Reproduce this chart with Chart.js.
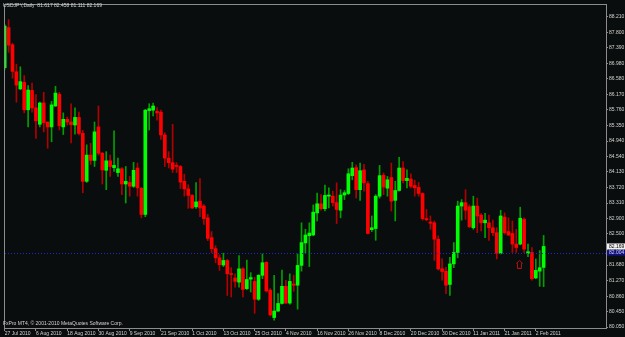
<!DOCTYPE html>
<html>
<head>
<meta charset="utf-8">
<script src="https://cdn.jsdelivr.net/npm/chart.js@4/dist/chart.umd.min.js"></script>
<style>
  html, body { margin: 0; padding: 0; background: #0a0d0d; }
  #wrap { width: 625px; height: 337px; }
</style>
</head>
<body>
<div id="wrap"><canvas id="chart" width="625" height="337"></canvas></div>
<script>
// USDJPY daily bars, 27 Jul 2010 .. 4 Feb 2011 (one entry per trading day)
const symbol = 'USDJPY,Daily';
const copyright = 'FxPro MT4, \u00a9 2001-2010 MetaQuotes Software Corp.';

const dateTicks = ['27 Jul 2010', '6 Aug 2010', '18 Aug 2010', '30 Aug 2010', '9 Sep 2010',
  '21 Sep 2010', '1 Oct 2010', '13 Oct 2010', '25 Oct 2010', '4 Nov 2010', '16 Nov 2010',
  '26 Nov 2010', '8 Dec 2010', '20 Dec 2010', '30 Dec 2010', '11 Jan 2011', '21 Jan 2011',
  '2 Feb 2011'];
const tickStep = 8;

const priceTicks = [88.210, 87.800, 87.390, 86.980, 86.580, 86.170, 85.760, 85.350, 84.940,
  84.540, 84.130, 83.720, 83.310, 82.900, 82.500, 82.090, 81.680, 81.270, 80.860, 80.450, 80.050];

const open = [86.87, 87.92, 87.47, 86.76, 86.31, 86.48, 85.76, 86.27, 85.81, 85.38,
  85.94, 85.44, 85.31, 85.86, 86.17, 85.31, 85.51, 85.44, 85.36, 85.56,
  85.14, 83.88, 84.57, 84.43, 85.31, 84.62, 84.17, 84.42, 84.24, 84.11,
  84.21, 83.81, 83.85, 83.75, 84.23, 83.70, 83.01, 85.74, 85.75, 85.72,
  85.70, 85.10, 84.49, 84.37, 84.30, 84.27, 83.88, 83.68, 83.51, 83.21,
  83.36, 83.23, 82.92, 82.40, 82.11, 81.87, 81.68, 81.80, 81.45, 81.34,
  81.23, 81.58, 81.06, 81.31, 81.25, 80.78, 81.41, 81.75, 81.02, 80.30,
  80.47, 80.67, 81.12, 80.68, 81.18, 81.15, 81.67, 82.26, 82.45, 82.47,
  83.05, 83.29, 83.16, 83.49, 83.49, 83.32, 83.12, 83.52, 83.56, 84.03,
  84.24, 83.66, 84.18, 83.82, 82.61, 82.64, 83.49, 84.04, 83.70, 83.98,
  83.38, 83.64, 84.23, 83.90, 83.94, 83.77, 83.72, 83.56, 82.90, 82.81,
  82.79, 82.36, 81.58, 81.52, 81.17, 81.71, 82.01, 83.23, 83.32, 83.21,
  82.66, 83.23, 82.99, 82.79, 82.79, 82.66, 82.53, 81.99, 82.94, 82.56,
  82.51, 82.23, 82.23, 82.88, 81.99, 82.01, 81.34, 81.52, 81.617];
const high = [88.00, 88.13, 87.51, 86.96, 86.89, 86.66, 86.40, 86.46, 86.16, 85.96,
  86.22, 85.44, 85.98, 86.38, 86.22, 85.68, 85.57, 85.92, 85.81, 85.70,
  85.22, 84.84, 84.88, 85.44, 85.86, 84.64, 84.66, 84.57, 85.21, 84.49,
  84.24, 84.27, 84.01, 84.38, 84.36, 83.72, 85.77, 85.92, 85.94, 85.82,
  85.75, 85.16, 84.66, 85.38, 84.37, 84.30, 84.07, 83.79, 83.53, 83.85,
  83.95, 83.27, 83.01, 82.56, 82.19, 81.95, 81.99, 81.83, 81.61, 81.45,
  81.93, 81.61, 81.81, 81.48, 81.36, 81.43, 81.97, 81.77, 81.06, 81.41,
  80.93, 81.55, 81.28, 81.45, 81.41, 81.97, 82.79, 82.62, 82.79, 83.26,
  83.57, 83.53, 83.78, 83.71, 83.62, 83.84, 83.66, 83.64, 84.21, 84.38,
  84.31, 84.36, 84.33, 83.88, 82.97, 83.53, 84.30, 84.10, 84.01, 84.36,
  83.88, 84.51, 84.40, 84.18, 84.08, 83.91, 83.85, 83.58, 83.14, 82.97,
  82.84, 82.45, 81.84, 81.62, 81.88, 82.27, 83.36, 83.40, 83.66, 83.26,
  83.49, 83.44, 83.03, 83.04, 82.99, 82.86, 82.66, 83.12, 83.05, 82.92,
  82.84, 82.62, 83.20, 82.92, 82.23, 82.14, 81.84, 82.06, 82.458];
const low = [86.82, 87.27, 86.59, 85.96, 86.29, 85.68, 85.31, 85.70, 85.01, 85.31,
  85.18, 84.75, 84.92, 85.85, 85.23, 85.11, 85.36, 84.89, 85.12, 85.10,
  83.58, 83.85, 84.32, 84.27, 84.57, 83.81, 83.66, 84.01, 84.14, 84.01,
  83.53, 83.31, 83.49, 83.72, 83.49, 82.92, 82.95, 85.23, 85.60, 85.49,
  84.98, 84.27, 84.23, 84.11, 84.11, 83.69, 83.49, 83.17, 83.16, 83.17,
  82.95, 82.75, 82.32, 82.00, 81.74, 81.54, 81.64, 80.88, 80.84, 81.10,
  81.10, 80.84, 81.03, 80.97, 80.41, 80.75, 81.32, 80.97, 80.34, 80.23,
  80.46, 80.65, 80.67, 80.65, 80.99, 80.52, 81.52, 81.99, 81.64, 82.45,
  82.84, 83.12, 83.10, 83.18, 83.23, 82.77, 82.92, 83.40, 83.53, 83.92,
  83.44, 83.38, 83.62, 82.49, 82.56, 82.33, 83.44, 83.53, 83.49, 83.10,
  82.84, 83.62, 83.84, 83.71, 83.71, 83.49, 83.49, 82.86, 82.84, 82.62,
  81.80, 81.55, 81.28, 80.93, 80.88, 81.61, 81.87, 82.86, 82.88, 82.66,
  82.62, 82.53, 82.58, 82.40, 82.33, 82.45, 81.84, 81.97, 82.49, 82.45,
  82.01, 82.01, 82.21, 82.01, 81.90, 81.28, 81.32, 81.12, 81.111];
const close = [87.96, 87.46, 86.77, 86.41, 86.50, 85.76, 86.28, 85.81, 85.47, 85.94,
  85.42, 85.31, 85.89, 86.20, 85.34, 85.51, 85.44, 85.37, 85.56, 85.14,
  83.88, 84.57, 84.43, 85.18, 84.62, 84.18, 84.42, 84.27, 84.30, 84.21,
  83.81, 83.88, 83.75, 84.17, 83.71, 83.01, 85.75, 85.79, 85.86, 85.68,
  85.10, 84.49, 84.37, 84.20, 84.27, 83.86, 83.68, 83.51, 83.18, 83.34,
  83.18, 82.90, 82.38, 82.11, 81.87, 81.69, 81.80, 81.45, 81.43, 81.25,
  81.58, 81.04, 81.30, 81.35, 80.78, 81.41, 81.74, 81.00, 80.37, 80.47,
  80.67, 81.12, 80.68, 81.25, 81.15, 81.67, 82.27, 82.47, 82.52, 83.07,
  83.29, 83.16, 83.51, 83.52, 83.32, 83.14, 83.52, 83.58, 84.08, 84.23,
  83.66, 84.16, 83.84, 82.51, 82.66, 83.49, 84.03, 83.73, 83.92, 83.36,
  83.64, 84.23, 83.90, 83.96, 83.75, 83.71, 83.56, 82.90, 82.87, 82.78,
  82.36, 81.58, 81.51, 81.15, 81.71, 82.01, 83.23, 83.32, 83.12, 82.69,
  83.23, 82.97, 82.79, 82.86, 82.66, 82.53, 81.99, 82.97, 82.53, 82.47,
  82.23, 82.14, 82.91, 82.10, 82.03, 81.32, 81.54, 81.61, 82.169];

const lineLevel = 82.004;          // blue dotted horizontal line
const arrowBar = 131.8;            // up-arrow object
const arrowPrice = 81.70;

const upColor = '#00ff00', downColor = '#ff0000';
const upWick = '#00a000', downWick = '#b00000';
const textColor = '#d4d4d4';
const frameColor = '#8c8c8c';
const font = '"Liberation Sans", Arial, sans-serif';

const isUp = i => close[i] >= open[i];
const last = close.length - 1;

const arrowImg = document.createElement('canvas');
arrowImg.width = 7; arrowImg.height = 9;
(function () {
  const c = arrowImg.getContext('2d');
  c.strokeStyle = '#b01414';
  c.lineWidth = 1;
  c.beginPath();
  c.moveTo(3.5, 0.5); c.lineTo(6.5, 3.5); c.lineTo(5.5, 3.5); c.lineTo(5.5, 8.5);
  c.lineTo(1.5, 8.5); c.lineTo(1.5, 3.5); c.lineTo(0.5, 3.5); c.closePath();
  c.stroke();
})();

const mt4Plugin = {
  id: 'mt4',
  beforeDraw(chart) {
    const ctx = chart.ctx;
    ctx.save();
    ctx.fillStyle = '#0a0d0d';
    ctx.fillRect(0, 0, chart.width, chart.height);
    ctx.restore();
  },
  afterDatasetsDraw(chart) {
    const ctx = chart.ctx, ca = chart.chartArea, y = chart.scales.y;
    const py = Math.round(y.getPixelForValue(lineLevel)) + 0.5;
    ctx.save();
    ctx.strokeStyle = '#2626c8';
    ctx.lineWidth = 1;
    ctx.setLineDash([1, 2]);
    ctx.beginPath();
    ctx.moveTo(ca.left, py); ctx.lineTo(ca.right, py);
    ctx.stroke();
    ctx.restore();
  },
  afterDraw(chart) {
    const ctx = chart.ctx, ca = chart.chartArea, y = chart.scales.y;
    ctx.save();
    ctx.strokeStyle = frameColor;
    ctx.lineWidth = 1;
    ctx.strokeRect(ca.left - 0.5, ca.top - 0.5, ca.right - ca.left + 1, ca.bottom - ca.top + 1);

    ctx.font = '5px ' + font;
    ctx.fillStyle = textColor;
    ctx.textBaseline = 'middle';
    ctx.textAlign = 'left';
    const hdr = symbol + '  ' + [open[last], high[last], low[last], close[last]].map(v => v.toFixed(3)).join(' ');
    ctx.fillText(hdr, 3, 5.5);
    ctx.fillText(copyright, 3, 324);

    // price boxes on the right axis
    const boxes = [
      { v: lineLevel, bg: '#12127a', fg: '#d0d0ff' },
      { v: close[last], bg: '#f0f0f0', fg: '#000000' }
    ];
    boxes.forEach(b => {
      const py = y.getPixelForValue(b.v);
      ctx.fillStyle = b.bg;
      ctx.fillRect(ca.right + 1, py - 3, chart.width - ca.right - 1, 6);
      ctx.fillStyle = b.fg;
      ctx.fillText(b.v.toFixed(3), ca.right + 3, py);
    });
    ctx.restore();
  }
};

const idx = open.map((_, i) => i);

new Chart(document.getElementById('chart'), {
  type: 'bar',
  data: {
    datasets: [
      {
        label: 'wick',
        order: 2,
        grouped: false,
        barThickness: 1,
        minBarLength: 1,
        data: idx.map(i => ({ x: i, y: [low[i], high[i]] })),
        backgroundColor: idx.map(i => isUp(i) ? upWick : downWick),
        borderWidth: 0
      },
      {
        label: 'body',
        order: 1,
        grouped: false,
        barThickness: 3,
        minBarLength: 1,
        data: idx.map(i => ({ x: i, y: [Math.min(open[i], close[i]), Math.max(open[i], close[i])] })),
        backgroundColor: idx.map(i => isUp(i) ? upColor : downColor),
        borderWidth: 0
      },
      {
        type: 'line',
        label: 'arrow',
        order: 0,
        showLine: false,
        data: [{ x: arrowBar, y: arrowPrice }],
        pointStyle: arrowImg,
        pointRadius: 4
      }
    ]
  },
  options: {
    responsive: false,
    animation: false,
    devicePixelRatio: 1,
    layout: { padding: { left: 2, top: 2, right: 0, bottom: 0 } },
    plugins: { legend: { display: false }, tooltip: { enabled: false } },
    scales: {
      x: {
        type: 'linear',
        offset: false,
        min: 0.076,
        max: 153.97,
        grid: { offset: false, drawOnChartArea: false, drawTicks: true, tickLength: 3, color: frameColor },
        border: { display: false },
        ticks: {
          autoSkip: false,
          maxRotation: 0,
          align: 'start',
          padding: 0,
          color: textColor,
          font: { family: font, size: 5 },
          callback: v => dateTicks[v / tickStep]
        },
        afterBuildTicks: s => { s.ticks = dateTicks.map((_, k) => ({ value: k * tickStep })); },
        afterFit: s => { s.height = 9; s.paddingLeft = 0; s.paddingRight = 0; }
      },
      y: {
        type: 'linear',
        position: 'right',
        min: 80.025,
        max: 88.515,
        grid: { drawOnChartArea: false, drawTicks: true, tickLength: 2, color: frameColor },
        border: { display: false },
        ticks: {
          padding: 1,
          color: textColor,
          font: { family: font, size: 5 },
          callback: v => Number(v).toFixed(3)
        },
        afterBuildTicks: s => { s.ticks = priceTicks.map(v => ({ value: v })); },
        afterFit: s => { s.width = 19; s.paddingTop = 0; s.paddingBottom = 0; }
      }
    }
  },
  plugins: [mt4Plugin]
});
</script>
</body>
</html>
